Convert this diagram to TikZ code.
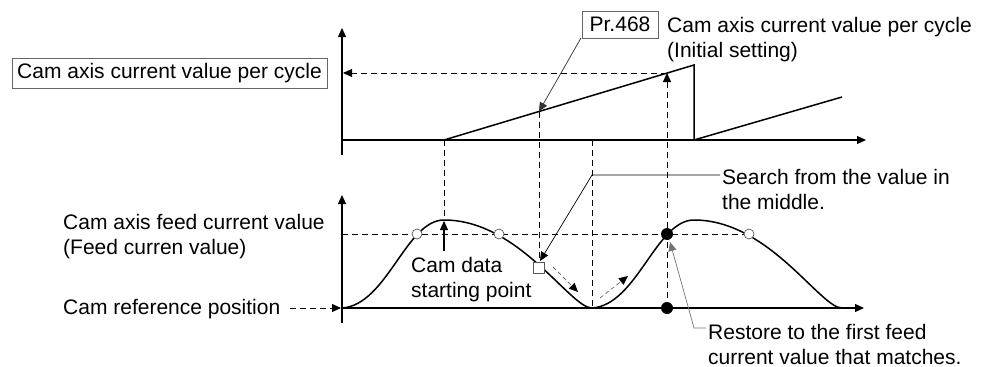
\documentclass[tikz,border=0pt]{standalone}
\usepackage{fontspec}
\setmainfont{Liberation Sans}
\usetikzlibrary{arrows.meta}
\begin{document}
\begin{tikzpicture}[x=1pt,y=-1pt,
  font=\fontsize{21}{25}\selectfont,
  head/.style={-{Triangle[length=9pt,width=8pt]}},
  axisline/.style={line width=1.2pt,head},
  graph/.style={line width=1.5pt},
  dsh/.style={line width=0.9pt,dash pattern=on 6pt off 4pt},
  lead/.style={line width=0.7pt,head},
  lbl/.style={anchor=base west,inner sep=0pt,align=left},
  gbox/.style={draw=black!60,line width=0.9pt,inner sep=0pt},
  ring/.style={draw=black!65,line width=0.7pt,fill=white},
  dot/.style={fill=black}]
\useasboundingbox (0,0) rectangle (989,367);

% ---------- labels ----------
\node[gbox,minimum width=315pt,minimum height=30pt] (cpc) at (169.5,73) {Cam axis current value per cycle};
\node[gbox,minimum width=76pt,minimum height=27pt] (pr) at (620,24.5) {Pr.468};
\node[lbl] (prtxt) at (667,57.5) {Cam axis current value per cycle\\(Initial setting)};
\node[lbl] (search) at (722,209.5) {Search from the value in\\the middle.};
\node[lbl] (feed) at (63,254.5) {Cam axis feed current value\\(Feed curren value)};
\node[lbl] (camdata) at (411,297.5) {Cam data\\starting point};
\node[lbl] (ref) at (63,314.5) {Cam reference position};
\node[lbl] (restore) at (708,364.5) {Restore to the first feed\\current value that matches.};

% ---------- coordinates ----------
\coordinate (tO) at (342,140);
\coordinate (tTop) at (342,28);
\coordinate (tBot) at (342,155);
\coordinate (tEnd) at (866,140);
\coordinate (bO) at (342,308);
\coordinate (bTop) at (342,195);
\coordinate (bBot) at (342,323);
\coordinate (bEnd) at (864,308);

\coordinate (r0) at (444,140);
\coordinate (r1) at (694,65);
\coordinate (r2) at (694,140);
\coordinate (r3) at (842,97);

% ---------- axes ----------
\draw[axisline] (tBot) -- (tTop);
\draw[axisline] (tO) -- (tEnd);
\draw[axisline] (bBot) -- (bTop);
\draw[axisline] (bO) -- (bEnd);

% ---------- top ramp ----------
\draw[graph,line join=miter] (r0) -- (r1) -- (r2) -- (r3);

% ---------- dashed guides ----------
\coordinate (pk1) at (444,220);
\coordinate (sqtop) at (539,262);
\coordinate (rmid) at (539,111.5);
\coordinate (mn) at (592,308);
\coordinate (mnTop) at (592,140);
\coordinate (hiT) at (667,73);
\coordinate (hiA) at (343,73);
\coordinate (dot1) at (667,234);
\coordinate (dot2) at (667,308);
\coordinate (hL) at (342,234);
\coordinate (hR) at (744,234);

\draw[dsh] (r0) -- (pk1);
\draw[dsh] (rmid) -- (sqtop);
\draw[dsh] (mnTop) -- (mn);
\draw[dsh,head] (dot2) -- (hiT);
\draw[dsh,head] (hiT) -- (hiA);
\draw[dsh] (hL) -- (hR);

% ---------- cam curve ----------
\draw[graph] (bO) .. controls (387,305) and (406,220) .. (pk1)
  .. controls (519,220) and (570,308) .. (mn)
  .. controls (637,305) and (656,220) .. (694,220)
  .. controls (769,220) and (820,308) .. (842,308);

% ---------- markers ----------
\draw[ring] (417,234) circle (5pt);
\draw[ring] (499,234) circle (5pt);
\draw[ring] (749,234) circle (5pt);
\draw[ring] (533,262) rectangle (544,273);
\fill[dot] (dot1) circle (6pt);
\fill[dot] (dot2) circle (6pt);

% ---------- small search arrows ----------
\draw[black!55,dash pattern=on 4pt off 3pt,line width=0.8pt,-{Triangle[length=9pt,width=8pt,fill=black,color=black]}] (553,267) -- (578,292);
\draw[black!55,dash pattern=on 4pt off 3pt,line width=0.8pt,-{Triangle[length=9pt,width=8pt,fill=black,color=black]}] (600,298) -- (628,276);

% ---------- leaders ----------
\coordinate (prL) at (581,38);
\draw[lead,black!80] (prL) -- (rmid);

\coordinate (sA) at (720,175);
\coordinate (sB) at (592,175);
\coordinate (sq) at (540,261);
\draw[lead] (sA) -- (sB) -- (sq);

\coordinate (cdA) at (444,251);
\draw[line width=1.1pt,head] (cdA) -- (444,221);

\coordinate (rsA) at (706,328);
\coordinate (rsB) at (694,328);
\coordinate (rsT) at (670,242);
\draw[lead,black!55] (rsA) -- (rsB) -- (rsT);

\coordinate (refA) at (290,308);
\draw[dsh,head] (refA) -- (341,308);
\end{tikzpicture}
\end{document}
